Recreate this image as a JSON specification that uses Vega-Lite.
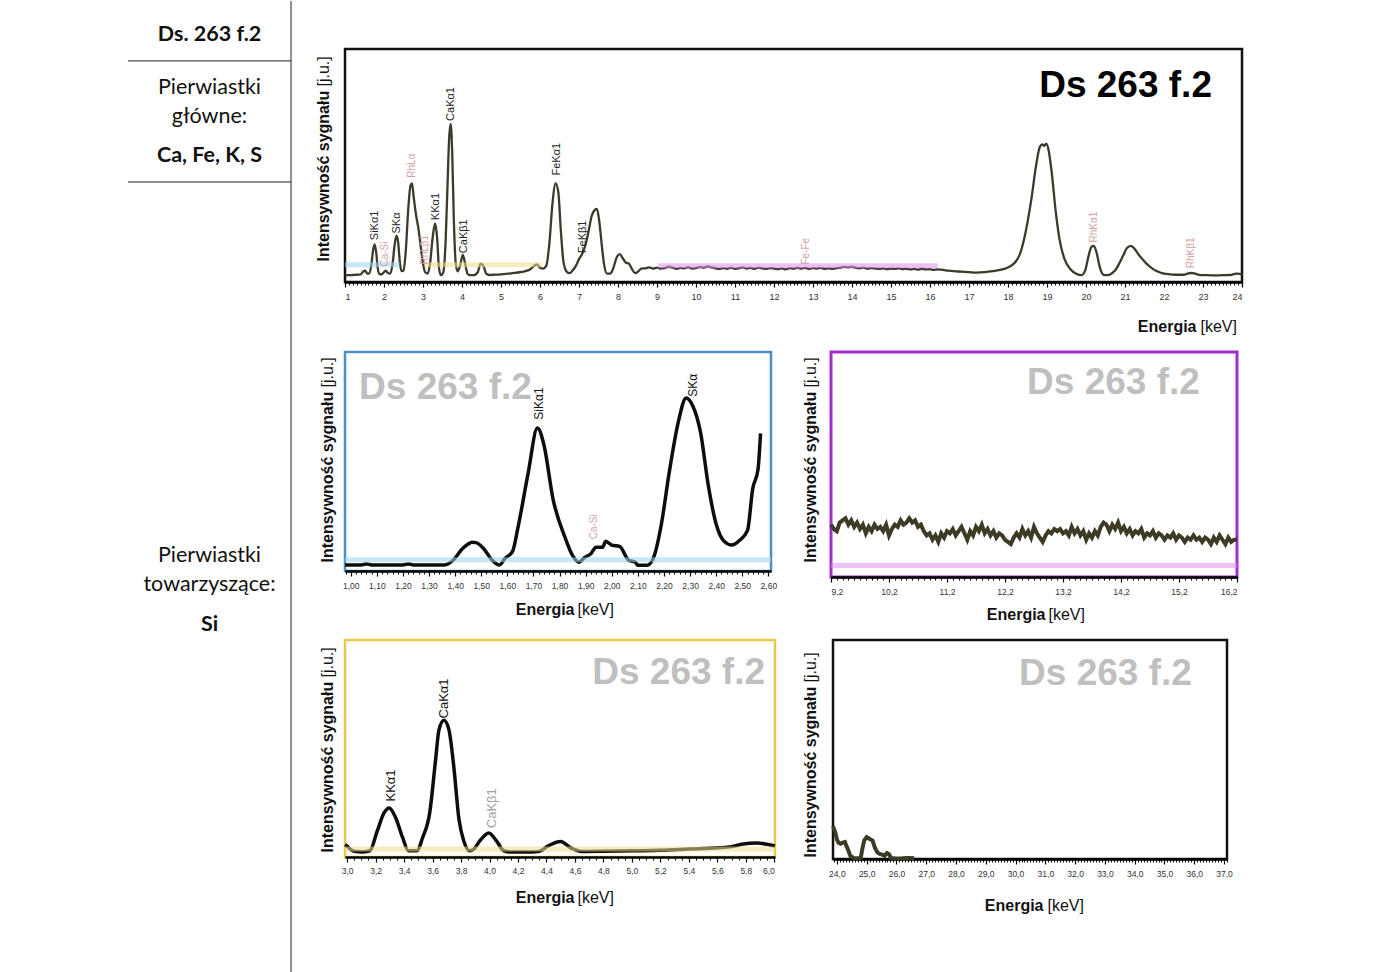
{
"$schema": "https://vega.github.io/schema/vega-lite/v6.json",
"background": "white",
"padding": {"left": 127, "top": 0, "right": 0, "bottom": 0},
"config": {
  "view": {"stroke": null},
  "axis": {"grid": false, "labelFont": "Liberation Sans", "titleFont": "Liberation Sans", "labelFontSize": 9, "labelColor": "#333", "tickColor": "#000", "domainColor": "#000"},
  "text": {"font": "Liberation Sans"}
},
"datasets": {
  "tabela": [
    {"line": 1.17, "text": "Ds. 263 f.2", "role": "value"},
    {"line": 2.99, "text": "Pierwiastki", "role": "label"},
    {"line": 3.99, "text": "główne:", "role": "label"},
    {"line": 5.33, "text": "Ca, Fe, K, S", "role": "value"},
    {"line": 19.07, "text": "Pierwiastki", "role": "label"},
    {"line": 20.07, "text": "towarzyszące:", "role": "label"},
    {"line": 21.44, "text": "Si", "role": "value"}
  ],
  "main": [
    {"e":1.0,"i":0.8},{"e":1.1,"i":0.8},{"e":1.2,"i":0.9},{"e":1.3,"i":1.0},{"e":1.4,"i":1.2},{"e":1.47,"i":2.5},{"e":1.52,"i":2.8},{"e":1.57,"i":1.5},{"e":1.62,"i":1.5},{"e":1.68,"i":6},{"e":1.72,"i":12},{"e":1.76,"i":14.6},{"e":1.8,"i":11},{"e":1.84,"i":4},{"e":1.88,"i":1.4},{"e":1.94,"i":1.2},{"e":2.0,"i":2.2},{"e":2.05,"i":2.8},{"e":2.1,"i":1.8},{"e":2.16,"i":1.5},{"e":2.22,"i":6},{"e":2.27,"i":14},{"e":2.32,"i":18.5},{"e":2.36,"i":16},{"e":2.41,"i":6},{"e":2.45,"i":2.6},{"e":2.5,"i":3.0},{"e":2.56,"i":12},{"e":2.62,"i":30},{"e":2.68,"i":41},{"e":2.72,"i":42},{"e":2.76,"i":36},{"e":2.82,"i":28},{"e":2.88,"i":22},{"e":2.94,"i":14},{"e":3.0,"i":6},{"e":3.06,"i":2},{"e":3.12,"i":1.5},{"e":3.18,"i":6},{"e":3.25,"i":18},{"e":3.31,"i":24},{"e":3.36,"i":18},{"e":3.41,"i":4},{"e":3.46,"i":0.8},{"e":3.52,"i":2},{"e":3.58,"i":16},{"e":3.63,"i":42},{"e":3.67,"i":62},{"e":3.71,"i":68.7},{"e":3.75,"i":55},{"e":3.79,"i":26},{"e":3.84,"i":6},{"e":3.89,"i":2.5},{"e":3.95,"i":5},{"e":4.02,"i":9.9},{"e":4.08,"i":6},{"e":4.14,"i":1.5},{"e":4.2,"i":0.8},{"e":4.3,"i":0.8},{"e":4.4,"i":2},{"e":4.48,"i":6},{"e":4.55,"i":5},{"e":4.62,"i":1.5},{"e":4.7,"i":0.9},{"e":4.8,"i":1},{"e":5.0,"i":1.2},{"e":5.2,"i":1.5},{"e":5.4,"i":2},{"e":5.6,"i":2.5},{"e":5.75,"i":3.5},{"e":5.85,"i":5},{"e":5.92,"i":5.6},{"e":6.0,"i":4.2},{"e":6.08,"i":3.8},{"e":6.16,"i":5},{"e":6.24,"i":15},{"e":6.32,"i":33},{"e":6.4,"i":42},{"e":6.47,"i":38},{"e":6.53,"i":22},{"e":6.6,"i":7},{"e":6.68,"i":2.5},{"e":6.76,"i":1.7},{"e":6.84,"i":3},{"e":6.92,"i":5},{"e":7.0,"i":8},{"e":7.08,"i":10.3},{"e":7.16,"i":14},{"e":7.24,"i":20},{"e":7.32,"i":27},{"e":7.4,"i":30},{"e":7.46,"i":30.5},{"e":7.52,"i":25},{"e":7.58,"i":15},{"e":7.64,"i":6},{"e":7.72,"i":1.5},{"e":7.8,"i":1.5},{"e":7.88,"i":4},{"e":7.96,"i":8.5},{"e":8.04,"i":10.3},{"e":8.12,"i":8.5},{"e":8.2,"i":6.5},{"e":8.28,"i":6},{"e":8.36,"i":3.5},{"e":8.44,"i":1.7},{"e":8.52,"i":2.5},{"e":8.6,"i":3.8},{"e":8.7,"i":3.9},{"e":8.8,"i":4.3},{"e":8.9,"i":3.8},{"e":9.0,"i":4.2},
    {"e":9.1,"i":3.8},{"e":9.2,"i":4.0},{"e":9.3,"i":4.6},{"e":9.4,"i":4.2},{"e":9.5,"i":3.7},{"e":9.6,"i":4.1},{"e":9.7,"i":3.9},{"e":9.8,"i":4.4},{"e":9.9,"i":3.8},{"e":10.0,"i":4.0},{"e":10.1,"i":4.5},{"e":10.2,"i":4.2},{"e":10.3,"i":4.7},{"e":10.4,"i":4.3},{"e":10.5,"i":3.9},{"e":10.6,"i":3.6},{"e":10.7,"i":4.0},{"e":10.8,"i":3.7},{"e":10.9,"i":4.2},{"e":11.0,"i":3.6},{"e":11.1,"i":4.0},{"e":11.2,"i":4.3},{"e":11.3,"i":3.8},{"e":11.4,"i":4.1},{"e":11.5,"i":3.7},{"e":11.6,"i":4.2},{"e":11.7,"i":3.9},{"e":11.8,"i":3.6},{"e":11.9,"i":4.0},{"e":12.0,"i":3.8},{"e":12.1,"i":3.5},{"e":12.2,"i":3.9},{"e":12.3,"i":3.4},{"e":12.4,"i":4.0},{"e":12.5,"i":3.7},{"e":12.6,"i":4.2},{"e":12.7,"i":3.8},{"e":12.8,"i":4.1},{"e":12.9,"i":3.6},{"e":13.0,"i":4.0},{"e":13.1,"i":3.8},{"e":13.2,"i":4.1},{"e":13.3,"i":3.7},{"e":13.4,"i":3.9},{"e":13.5,"i":3.6},{"e":13.6,"i":4.0},{"e":13.7,"i":4.2},{"e":13.8,"i":4.5},{"e":13.9,"i":4.3},{"e":14.0,"i":4.6},{"e":14.1,"i":4.1},{"e":14.2,"i":3.9},{"e":14.3,"i":4.2},{"e":14.4,"i":3.7},{"e":14.5,"i":4.0},{"e":14.6,"i":3.8},{"e":14.7,"i":3.6},{"e":14.8,"i":3.9},{"e":14.9,"i":3.5},{"e":15.0,"i":3.8},{"e":15.1,"i":3.6},{"e":15.2,"i":3.9},{"e":15.3,"i":3.5},{"e":15.4,"i":3.7},{"e":15.5,"i":3.4},{"e":15.6,"i":3.6},{"e":15.7,"i":3.3},{"e":15.8,"i":3.7},{"e":15.9,"i":3.4},{"e":16.0,"i":3.5},{"e":16.1,"i":3.2},{"e":16.2,"i":3.4},
    {"e":16.4,"i":3.0},{"e":16.6,"i":2.6},{"e":16.8,"i":2.4},{"e":17.0,"i":2.2},{"e":17.2,"i":2.0},{"e":17.4,"i":2.2},{"e":17.6,"i":2.6},{"e":17.8,"i":3.2},{"e":18.0,"i":4.3},{"e":18.15,"i":6},{"e":18.3,"i":10},{"e":18.45,"i":20},{"e":18.6,"i":35},{"e":18.72,"i":50},{"e":18.82,"i":58.5},{"e":18.88,"i":59.5},{"e":18.93,"i":58.8},{"e":18.98,"i":59.8},{"e":19.04,"i":57},{"e":19.12,"i":47},{"e":19.22,"i":30},{"e":19.32,"i":17},{"e":19.45,"i":8},{"e":19.6,"i":3.5},{"e":19.75,"i":1.5},{"e":19.88,"i":0.8},{"e":19.98,"i":3},{"e":20.06,"i":9},{"e":20.14,"i":13.5},{"e":20.2,"i":14},{"e":20.27,"i":11},{"e":20.36,"i":4},{"e":20.45,"i":1},{"e":20.55,"i":0.8},{"e":20.65,"i":1.5},{"e":20.75,"i":3},{"e":20.85,"i":6},{"e":20.95,"i":9.5},{"e":21.05,"i":13},{"e":21.15,"i":14},{"e":21.25,"i":12.5},{"e":21.35,"i":10},{"e":21.45,"i":8},{"e":21.55,"i":6},{"e":21.65,"i":4.5},{"e":21.75,"i":3.2},{"e":21.85,"i":2.4},{"e":21.95,"i":1.7},{"e":22.1,"i":1.3},{"e":22.3,"i":1.0},{"e":22.5,"i":1.0},{"e":22.62,"i":1.6},{"e":22.7,"i":1.8},{"e":22.78,"i":1.6},{"e":22.9,"i":1.0},{"e":23.1,"i":0.8},{"e":23.3,"i":0.7},{"e":23.5,"i":0.8},{"e":23.7,"i":0.9},{"e":23.85,"i":1.5},{"e":23.95,"i":1.4},{"e":24.0,"i":0.9}
  ],
  "mainLabels": [
    {"e":1.77,"i":16.5,"label":"SiKα1","kind":"element"},
    {"e":2.03,"i":4.7,"label":"Ca-Si","kind":"artifact"},
    {"e":2.33,"i":19.5,"label":"SKα","kind":"element"},
    {"e":2.72,"i":44.5,"label":"RhLα","kind":"artifact"},
    {"e":3.05,"i":5.6,"label":"RhLβ1","kind":"artifact"},
    {"e":3.33,"i":25.5,"label":"KKα1","kind":"element"},
    {"e":3.72,"i":70,"label":"CaKα1","kind":"element"},
    {"e":4.05,"i":10.7,"label":"CaKβ1","kind":"element"},
    {"e":6.44,"i":45.5,"label":"FeKα1","kind":"element"},
    {"e":7.1,"i":10.7,"label":"FeKβ1","kind":"element"},
    {"e":12.82,"i":5.6,"label":"Fe-Fe","kind":"artifact"},
    {"e":20.2,"i":15.5,"label":"RhKα1","kind":"artifact"},
    {"e":22.69,"i":3.9,"label":"RhKβ1","kind":"artifact"}
  ],
  "si": [
    {"e":0.978,"i":0.5},{"e":1.0,"i":0.5},{"e":1.04,"i":0.5},{"e":1.06,"i":1.0},{"e":1.08,"i":0.5},{"e":1.15,"i":0.5},{"e":1.2,"i":0.5},{"e":1.22,"i":1.0},{"e":1.24,"i":0.5},{"e":1.3,"i":0.5},{"e":1.36,"i":0.5},{"e":1.39,"i":2.5},{"e":1.426,"i":8},{"e":1.45,"i":10.5},{"e":1.464,"i":11.4},{"e":1.48,"i":11.2},{"e":1.51,"i":8.2},{"e":1.54,"i":3},{"e":1.57,"i":0.5},{"e":1.59,"i":3.5},{"e":1.62,"i":7},{"e":1.64,"i":18},{"e":1.68,"i":44.7},{"e":1.715,"i":66},{"e":1.74,"i":58},{"e":1.775,"i":32},{"e":1.82,"i":14},{"e":1.85,"i":5},{"e":1.875,"i":1.8},{"e":1.895,"i":4},{"e":1.92,"i":5.9},{"e":1.94,"i":9},{"e":1.965,"i":9},{"e":1.977,"i":11.9},{"e":2.0,"i":10},{"e":2.03,"i":9.4},{"e":2.065,"i":2.7},{"e":2.09,"i":1.8},{"e":2.1,"i":0.3},{"e":2.135,"i":0.3},{"e":2.16,"i":4},{"e":2.19,"i":20},{"e":2.22,"i":44.7},{"e":2.255,"i":69},{"e":2.285,"i":80.4},{"e":2.31,"i":76.7},{"e":2.34,"i":64},{"e":2.37,"i":38.4},{"e":2.4,"i":20},{"e":2.43,"i":11.9},{"e":2.46,"i":10},{"e":2.49,"i":12.3},{"e":2.52,"i":17},{"e":2.54,"i":37},{"e":2.56,"i":46},{"e":2.57,"i":63.5}
  ],
  "siLabels": [
    {"e":1.72,"i":70,"label":"SiKα1","kind":"element"},
    {"e":2.31,"i":81,"label":"SKα","kind":"element"},
    {"e":1.93,"i":12.8,"label":"Ca-Si","kind":"artifact"}
  ],
  "bg": [
    {"e":9.2,"i":22},{"e":9.25,"i":20},{"e":9.3,"i":19},{"e":9.35,"i":23},{"e":9.4,"i":24},{"e":9.45,"i":25},{"e":9.5,"i":22},{"e":9.55,"i":24},{"e":9.6,"i":21},{"e":9.65,"i":23},{"e":9.7,"i":20},{"e":9.75,"i":22},{"e":9.8,"i":18},{"e":9.85,"i":21},{"e":9.9,"i":19},{"e":9.95,"i":22},{"e":10.0,"i":20},{"e":10.05,"i":21},{"e":10.1,"i":19},{"e":10.15,"i":22},{"e":10.2,"i":17},{"e":10.25,"i":20},{"e":10.3,"i":22},{"e":10.35,"i":21},{"e":10.4,"i":24},{"e":10.45,"i":22},{"e":10.5,"i":23},{"e":10.55,"i":25},{"e":10.6,"i":23},{"e":10.65,"i":24},{"e":10.7,"i":21},{"e":10.75,"i":22},{"e":10.8,"i":19},{"e":10.85,"i":17},{"e":10.9,"i":18},{"e":10.95,"i":15},{"e":11.0,"i":17},{"e":11.05,"i":14},{"e":11.1,"i":18},{"e":11.15,"i":16},{"e":11.2,"i":19},{"e":11.25,"i":18},{"e":11.3,"i":20},{"e":11.35,"i":17},{"e":11.4,"i":19},{"e":11.45,"i":21},{"e":11.5,"i":18},{"e":11.55,"i":15},{"e":11.6,"i":19},{"e":11.65,"i":17},{"e":11.7,"i":21},{"e":11.75,"i":19},{"e":11.8,"i":22},{"e":11.85,"i":18},{"e":11.9,"i":20},{"e":11.95,"i":17},{"e":12.0,"i":19},{"e":12.05,"i":16},{"e":12.1,"i":18},{"e":12.15,"i":17},{"e":12.2,"i":15},{"e":12.25,"i":14},{"e":12.3,"i":13},{"e":12.35,"i":16},{"e":12.4,"i":18},{"e":12.45,"i":16},{"e":12.5,"i":20},{"e":12.55,"i":17},{"e":12.6,"i":19},{"e":12.65,"i":16},{"e":12.7,"i":21},{"e":12.75,"i":18},{"e":12.8,"i":16},{"e":12.85,"i":14},{"e":12.9,"i":17},{"e":12.95,"i":19},{"e":13.0,"i":18},{"e":13.05,"i":20},{"e":13.1,"i":19},{"e":13.15,"i":20},{"e":13.2,"i":18},{"e":13.25,"i":19},{"e":13.3,"i":17},{"e":13.35,"i":21},{"e":13.4,"i":18},{"e":13.45,"i":20},{"e":13.5,"i":17},{"e":13.55,"i":19},{"e":13.6,"i":15},{"e":13.65,"i":18},{"e":13.7,"i":16},{"e":13.75,"i":19},{"e":13.8,"i":17},{"e":13.85,"i":21},{"e":13.9,"i":23},{"e":13.95,"i":22},{"e":14.0,"i":19},{"e":14.05,"i":22},{"e":14.1,"i":20},{"e":14.15,"i":23},{"e":14.2,"i":19},{"e":14.25,"i":21},{"e":14.3,"i":18},{"e":14.35,"i":20},{"e":14.4,"i":17},{"e":14.45,"i":19},{"e":14.5,"i":18},{"e":14.55,"i":20},{"e":14.6,"i":16},{"e":14.65,"i":18},{"e":14.7,"i":17},{"e":14.75,"i":19},{"e":14.8,"i":16},{"e":14.85,"i":18},{"e":14.9,"i":17},{"e":14.95,"i":15},{"e":15.0,"i":17},{"e":15.05,"i":16},{"e":15.1,"i":18},{"e":15.15,"i":15},{"e":15.2,"i":17},{"e":15.25,"i":16},{"e":15.3,"i":14},{"e":15.35,"i":16},{"e":15.4,"i":15},{"e":15.45,"i":17},{"e":15.5,"i":15},{"e":15.55,"i":16},{"e":15.6,"i":14},{"e":15.65,"i":16},{"e":15.7,"i":15},{"e":15.75,"i":13},{"e":15.8,"i":16},{"e":15.85,"i":14},{"e":15.9,"i":17},{"e":15.95,"i":15},{"e":16.0,"i":13},{"e":16.05,"i":16},{"e":16.1,"i":14},{"e":16.15,"i":15},{"e":16.2,"i":15}
  ],
  "ca": [
    {"e":2.985,"i":3.5},{"e":3.0,"i":2.8},{"e":3.03,"i":1},{"e":3.06,"i":0.2},{"e":3.1,"i":0},{"e":3.16,"i":0.6},{"e":3.21,"i":9.8},{"e":3.26,"i":19},{"e":3.295,"i":21.3},{"e":3.34,"i":16.7},{"e":3.39,"i":6.9},{"e":3.43,"i":0.6},{"e":3.49,"i":0.6},{"e":3.53,"i":6.9},{"e":3.58,"i":19},{"e":3.62,"i":43.7},{"e":3.645,"i":59},{"e":3.68,"i":63.6},{"e":3.715,"i":59},{"e":3.75,"i":40.6},{"e":3.785,"i":16},{"e":3.82,"i":5.2},{"e":3.86,"i":0.6},{"e":3.89,"i":1.4},{"e":3.93,"i":5.2},{"e":3.995,"i":9.2},{"e":4.05,"i":5.2},{"e":4.1,"i":0.6},{"e":4.15,"i":0},{"e":4.3,"i":0},{"e":4.35,"i":0.3},{"e":4.41,"i":2.9},{"e":4.5,"i":5.1},{"e":4.57,"i":2},{"e":4.65,"i":0.3},{"e":4.8,"i":0.4},{"e":5.0,"i":0.6},{"e":5.2,"i":0.8},{"e":5.4,"i":1.4},{"e":5.6,"i":2},{"e":5.7,"i":2.6},{"e":5.77,"i":3.7},{"e":5.88,"i":4.4},{"e":5.95,"i":3.7},{"e":6.005,"i":2.9}
  ],
  "caLabels": [
    {"e":3.31,"i":24.4,"label":"KKα1","kind":"element"},
    {"e":3.68,"i":64.5,"label":"CaKα1","kind":"element"},
    {"e":4.02,"i":11.5,"label":"CaKβ1","kind":"weak"}
  ],
  "hi": [
    {"e":23.87,"i":15},{"e":23.95,"i":12},{"e":24.0,"i":9},{"e":24.05,"i":7.5},{"e":24.12,"i":7},{"e":24.2,"i":7.5},{"e":24.27,"i":7.8},{"e":24.32,"i":6},{"e":24.37,"i":4.5},{"e":24.45,"i":1.5},{"e":24.55,"i":0.5},{"e":24.7,"i":0.3},{"e":24.8,"i":0.5},{"e":24.86,"i":5},{"e":24.92,"i":8.5},{"e":25.0,"i":10},{"e":25.06,"i":9.5},{"e":25.12,"i":9},{"e":25.2,"i":8.4},{"e":25.28,"i":5},{"e":25.36,"i":3},{"e":25.44,"i":2.3},{"e":25.52,"i":2.0},{"e":25.6,"i":1.5},{"e":25.68,"i":2.7},{"e":25.75,"i":2.2},{"e":25.82,"i":0.5},{"e":25.9,"i":0.3},{"e":26.0,"i":0.2},{"e":26.2,"i":0.3},{"e":26.4,"i":0.5},{"e":26.6,"i":0.3}
  ]
},
"spacing": 21,
"hconcat": [
  {
    "width": 163, "height": 924,
    "layer": [
      {
        "data": {"values": [{"line": 2.06}, {"line": 6.22}]},
        "mark": {"type": "rule", "color": "#222", "strokeWidth": 1},
        "encoding": {
          "y": {"field": "line", "type": "quantitative", "scale": {"domain": [1.65, 33.4], "reverse": true, "nice": false, "zero": false}, "axis": null}
        }
      },
      {
        "data": {"values": [{"edge": 1, "from": 0, "to": 33.4}]},
        "mark": {"type": "rule", "color": "#222", "strokeWidth": 1},
        "encoding": {
          "x": {"field": "edge", "type": "quantitative", "scale": {"domain": [0, 1], "nice": false, "zero": false}, "axis": null},
          "y": {"field": "from", "type": "quantitative", "scale": {"domain": [1.65, 33.4], "reverse": true, "nice": false, "zero": false}, "axis": null},
          "y2": {"field": "to"}
        }
      },
      {
        "data": {"name": "tabela"},
        "transform": [{"filter": "datum.role === 'label'"}],
        "mark": {"type": "text", "font": "Lato", "fontSize": 21.5, "color": "#111", "align": "center", "baseline": "middle"},
        "encoding": {
          "y": {"field": "line", "type": "quantitative", "scale": {"domain": [1.65, 33.4], "reverse": true, "nice": false, "zero": false}, "axis": null},
          "text": {"field": "text"}
        }
      },
      {
        "data": {"name": "tabela"},
        "transform": [{"filter": "datum.role === 'value'"}],
        "mark": {"type": "text", "font": "Lato", "fontSize": 21.5, "fontWeight": "bold", "color": "#111", "align": "center", "baseline": "middle"},
        "encoding": {
          "y": {"field": "line", "type": "quantitative", "scale": {"domain": [1.65, 33.4], "reverse": true, "nice": false, "zero": false}, "axis": null},
          "text": {"field": "text"}
        }
      }
    ]
  },
  {
    "spacing": 14,
    "vconcat": [
      {
        "width": 897, "height": 233,
        "view": {"stroke": "#111", "strokeWidth": 2.5},
        "resolve": {"axis": {"x": "independent", "y": "independent"}},
        "layer": [
          {
            "data": {"name": "main"},
            "mark": {"type": "line", "color": "#3b3a2b", "strokeWidth": 2.3, "interpolate": "monotone"},
            "encoding": {
              "x": {"field": "e", "type": "quantitative", "scale": {"domain": [1, 24], "nice": false, "zero": false},
                "axis": {"orient": "bottom", "tickCount": 23, "labelPadding": 5, "tickSize": 5, "tickWidth": 1.2, "domainWidth": 2.5, "title": "Energia", "titleFontWeight": "bold", "titleFontSize": 16, "titleColor": "#111", "titleX": 851, "titleY": 44, "titleAlign": "right", "titleBaseline": "middle"}},
              "y": {"field": "i", "type": "quantitative", "scale": {"domain": [0, 100], "nice": false, "zero": false},
                "axis": {"orient": "left", "labels": false, "ticks": false, "domain": false, "title": "Intensywność sygnału", "titleFontWeight": "bold", "titleFontSize": 16, "titleColor": "#111", "titleAngle": 270, "titleX": -22, "titleY": 212, "titleAlign": "left", "titleBaseline": "middle"}}
            }
          },
          {
            "data": {"values": [{"e0": 1.0, "e1": 2.4, "top": 5.5, "region": "Si"}, {"e0": 3.05, "e1": 6.05, "top": 5.5, "region": "Ca"}, {"e0": 9.03, "e1": 16.2, "top": 5, "region": "tło"}]},
            "mark": {"type": "bar", "opacity": 0.55},
            "encoding": {
              "x": {"field": "e0", "type": "quantitative", "scale": {"domain": [1, 24], "nice": false, "zero": false}, "axis": null},
              "x2": {"field": "e1"},
              "y": {"field": "top", "type": "quantitative", "stack": null, "scale": {"domain": [0, 100], "nice": false, "zero": false}, "axis": null},
              "color": {"field": "region", "type": "nominal", "scale": {"domain": ["Si", "Ca", "tło"], "range": ["#9fd3f0", "#f0dc8a", "#df8ef0"]}, "legend": null}
            }
          },
          {
            "data": {"name": "mainLabels"},
            "transform": [{"filter": "datum.kind === 'element'"}],
            "mark": {"type": "text", "angle": 270, "align": "left", "baseline": "middle", "fontSize": 11, "color": "#222"},
            "encoding": {
              "x": {"field": "e", "type": "quantitative", "scale": {"domain": [1, 24], "nice": false, "zero": false},
                "axis": {"orient": "bottom", "tickCount": 230, "labels": false, "domain": false, "tickSize": 3, "tickWidth": 1, "title": "[keV]", "titleFontWeight": "normal", "titleFontSize": 16, "titleColor": "#111", "titleX": 855, "titleY": 44, "titleAlign": "left", "titleBaseline": "middle"}},
              "y": {"field": "i", "type": "quantitative", "scale": {"domain": [0, 100], "nice": false, "zero": false},
                "axis": {"orient": "left", "labels": false, "ticks": false, "domain": false, "title": "[j.u.]", "titleFontWeight": "normal", "titleFontSize": 16, "titleColor": "#111", "titleAngle": 270, "titleX": -22, "titleY": 37, "titleAlign": "left", "titleBaseline": "middle"}},
              "text": {"field": "label"}
            }
          },
          {
            "data": {"name": "mainLabels"},
            "transform": [{"filter": "datum.kind === 'artifact'"}],
            "mark": {"type": "text", "angle": 270, "align": "left", "baseline": "middle", "fontSize": 10, "color": "#d7a0a3"},
            "encoding": {
              "x": {"field": "e", "type": "quantitative", "scale": {"domain": [1, 24], "nice": false, "zero": false}, "axis": null},
              "y": {"field": "i", "type": "quantitative", "scale": {"domain": [0, 100], "nice": false, "zero": false}, "axis": null},
              "text": {"field": "label"}
            }
          },
          {
            "data": {"values": [{"e": 23.23, "i": 80.7, "text": "Ds 263 f.2"}]},
            "mark": {"type": "text", "align": "right", "baseline": "alphabetic", "fontSize": 37, "fontWeight": "bold", "color": "#000"},
            "encoding": {
              "x": {"field": "e", "type": "quantitative", "scale": {"domain": [1, 24], "nice": false, "zero": false}, "axis": null},
              "y": {"field": "i", "type": "quantitative", "scale": {"domain": [0, 100], "nice": false, "zero": false}, "axis": null},
              "text": {"field": "text"}
            }
          }
        ]
      },
      {
        "spacing": 22,
        "hconcat": [
          {
            "width": 426, "height": 219,
            "view": {"stroke": "#4a90c4", "strokeWidth": 2.5},
            "resolve": {"axis": {"x": "independent", "y": "independent"}},
            "layer": [
              {
                "data": {"name": "si"},
                "mark": {"type": "line", "color": "#0d0d0d", "strokeWidth": 3.5, "interpolate": "monotone"},
                "encoding": {
                  "x": {"field": "e", "type": "quantitative", "scale": {"domain": [0.978, 2.61], "nice": false, "zero": false},
                    "axis": {"orient": "bottom", "tickCount": 16, "labelExpr": "replace(format(datum.value, '.2f'), '.', ',')", "labelFontSize": 8.5, "labelPadding": 5, "tickSize": 5, "tickWidth": 1.2, "domainWidth": 2.5, "title": "Energia", "titleFontWeight": "bold", "titleFontSize": 16, "titleColor": "#111", "titleX": 229, "titleY": 38, "titleAlign": "right", "titleBaseline": "middle"}},
                  "y": {"field": "i", "type": "quantitative", "scale": {"domain": [0, 100], "nice": false, "zero": false},
                    "axis": {"orient": "left", "labels": false, "ticks": false, "domain": false, "title": "Intensywność sygnału", "titleFontWeight": "bold", "titleFontSize": 16, "titleColor": "#111", "titleAngle": 270, "titleX": -18, "titleY": 210, "titleAlign": "left", "titleBaseline": "middle"}}
                }
              },
              {
                "data": {"values": [{"e0": 0.978, "e1": 2.61, "top": 3, "region": "Si"}]},
                "mark": {"type": "bar", "opacity": 0.55},
                "encoding": {
                  "x": {"field": "e0", "type": "quantitative", "scale": {"domain": [0.978, 2.61], "nice": false, "zero": false}, "axis": null},
                  "x2": {"field": "e1"},
                  "y": {"field": "top", "type": "quantitative", "stack": null, "scale": {"domain": [0, 100], "nice": false, "zero": false}, "axis": null},
                  "color": {"field": "region", "type": "nominal", "scale": {"domain": ["Si", "Ca", "tło"], "range": ["#9fd3f0", "#f0dc8a", "#df8ef0"]}, "legend": null}
                }
              },
              {
                "data": {"name": "siLabels"},
                "transform": [{"filter": "datum.kind === 'element'"}],
                "mark": {"type": "text", "angle": 270, "align": "left", "baseline": "middle", "fontSize": 12, "color": "#111"},
                "encoding": {
                  "x": {"field": "e", "type": "quantitative", "scale": {"domain": [0.978, 2.61], "nice": false, "zero": false},
                    "axis": {"orient": "bottom", "tickCount": 82, "labels": false, "domain": false, "tickSize": 3, "tickWidth": 1, "title": "[keV]", "titleFontWeight": "normal", "titleFontSize": 16, "titleColor": "#111", "titleX": 232, "titleY": 38, "titleAlign": "left", "titleBaseline": "middle"}},
                  "y": {"field": "i", "type": "quantitative", "scale": {"domain": [0, 100], "nice": false, "zero": false},
                    "axis": {"orient": "left", "labels": false, "ticks": false, "domain": false, "title": "[j.u.]", "titleFontWeight": "normal", "titleFontSize": 16, "titleColor": "#111", "titleAngle": 270, "titleX": -18, "titleY": 35, "titleAlign": "left", "titleBaseline": "middle"}},
                  "text": {"field": "label"}
                }
              },
              {
                "data": {"name": "siLabels"},
                "transform": [{"filter": "datum.kind === 'artifact'"}],
                "mark": {"type": "text", "angle": 270, "align": "left", "baseline": "middle", "fontSize": 10, "color": "#d7a0a3"},
                "encoding": {
                  "x": {"field": "e", "type": "quantitative", "scale": {"domain": [0.978, 2.61], "nice": false, "zero": false}, "axis": null},
                  "y": {"field": "i", "type": "quantitative", "scale": {"domain": [0, 100], "nice": false, "zero": false}, "axis": null},
                  "text": {"field": "label"}
                }
              },
              {
                "data": {"values": [{"e": 1.694, "i": 80, "text": "Ds 263 f.2"}]},
                "mark": {"type": "text", "align": "right", "baseline": "alphabetic", "fontSize": 37, "fontWeight": "bold", "color": "#bfbfbf"},
                "encoding": {
                  "x": {"field": "e", "type": "quantitative", "scale": {"domain": [0.978, 2.61], "nice": false, "zero": false}, "axis": null},
                  "y": {"field": "i", "type": "quantitative", "scale": {"domain": [0, 100], "nice": false, "zero": false}, "axis": null},
                  "text": {"field": "text"}
                }
              }
            ]
          },
          {
            "width": 406, "height": 225,
            "view": {"stroke": "#a12fc9", "strokeWidth": 3},
            "resolve": {"axis": {"x": "independent", "y": "independent"}},
            "layer": [
              {
                "data": {"name": "bg"},
                "mark": {"type": "line", "color": "#3d3b26", "strokeWidth": 4},
                "encoding": {
                  "x": {"field": "e", "type": "quantitative", "scale": {"domain": [9.2, 16.2], "nice": false, "zero": false},
                    "axis": {"orient": "bottom", "values": [9.2, 10.2, 11.2, 12.2, 13.2, 14.2, 15.2, 16.2], "labelExpr": "replace(format(datum.value, '.1f'), '.', ',')", "labelFontSize": 8.5, "labelPadding": 5, "tickSize": 5, "tickWidth": 1.2, "domainWidth": 2.5, "title": "Energia", "titleFontWeight": "bold", "titleFontSize": 16, "titleColor": "#111", "titleX": 214, "titleY": 37, "titleAlign": "right", "titleBaseline": "middle"}},
                  "y": {"field": "i", "type": "quantitative", "scale": {"domain": [0, 100], "nice": false, "zero": false},
                    "axis": {"orient": "left", "labels": false, "ticks": false, "domain": false, "title": "Intensywność sygnału", "titleFontWeight": "bold", "titleFontSize": 16, "titleColor": "#111", "titleAngle": 270, "titleX": -21, "titleY": 210, "titleAlign": "left", "titleBaseline": "middle"}}
                }
              },
              {
                "data": {"values": [{"e0": 9.2, "e1": 16.2, "top": 3, "region": "tło"}]},
                "mark": {"type": "bar", "opacity": 0.55},
                "encoding": {
                  "x": {"field": "e0", "type": "quantitative", "scale": {"domain": [9.2, 16.2], "nice": false, "zero": false}, "axis": null},
                  "x2": {"field": "e1"},
                  "y": {"field": "top", "type": "quantitative", "stack": null, "scale": {"domain": [0, 100], "nice": false, "zero": false}, "axis": null},
                  "color": {"field": "region", "type": "nominal", "scale": {"domain": ["Si", "Ca", "tło"], "range": ["#9fd3f0", "#f0dc8a", "#df8ef0"]}, "legend": null}
                }
              },
              {
                "data": {"values": [{"e": 15.56, "i": 82.7, "text": "Ds 263 f.2"}]},
                "mark": {"type": "text", "align": "right", "baseline": "alphabetic", "fontSize": 37, "fontWeight": "bold", "color": "#bfbfbf"},
                "encoding": {
                  "x": {"field": "e", "type": "quantitative", "scale": {"domain": [9.2, 16.2], "nice": false, "zero": false},
                    "axis": {"orient": "bottom", "tickCount": 70, "labels": false, "domain": false, "tickSize": 3, "tickWidth": 1, "title": "[keV]", "titleFontWeight": "normal", "titleFontSize": 16, "titleColor": "#111", "titleX": 217, "titleY": 37, "titleAlign": "left", "titleBaseline": "middle"}},
                  "y": {"field": "i", "type": "quantitative", "scale": {"domain": [0, 100], "nice": false, "zero": false},
                    "axis": {"orient": "left", "labels": false, "ticks": false, "domain": false, "title": "[j.u.]", "titleFontWeight": "normal", "titleFontSize": 16, "titleColor": "#111", "titleAngle": 270, "titleX": -21, "titleY": 35, "titleAlign": "left", "titleBaseline": "middle"}},
                  "text": {"field": "text"}
                }
              }
            ]
          }
        ]
      },
      {
        "spacing": 16,
        "hconcat": [
          {
            "width": 430, "height": 217,
            "view": {"stroke": "#e5c84c", "strokeWidth": 2.5},
            "resolve": {"axis": {"x": "independent", "y": "independent"}},
            "layer": [
              {
                "data": {"name": "ca"},
                "mark": {"type": "line", "color": "#0d0d0d", "strokeWidth": 3.5, "interpolate": "monotone"},
                "encoding": {
                  "x": {"field": "e", "type": "quantitative", "scale": {"domain": [2.985, 6.005], "nice": false, "zero": false},
                    "axis": {"orient": "bottom", "tickCount": 15, "labelExpr": "replace(format(datum.value, '.1f'), '.', ',')", "labelFontSize": 8.5, "labelPadding": 4, "tickSize": 5, "tickWidth": 1.2, "domainWidth": 2.5, "title": "Energia", "titleFontWeight": "bold", "titleFontSize": 16, "titleColor": "#111", "titleX": 229, "titleY": 40, "titleAlign": "right", "titleBaseline": "middle"}},
                  "y": {"field": "i", "type": "quantitative", "scale": {"domain": [0, 100], "nice": false, "zero": false},
                    "axis": {"orient": "left", "labels": false, "ticks": false, "domain": false, "title": "Intensywność sygnału", "titleFontWeight": "bold", "titleFontSize": 16, "titleColor": "#111", "titleAngle": 270, "titleX": -18, "titleY": 212, "titleAlign": "left", "titleBaseline": "middle"}}
                }
              },
              {
                "data": {"values": [{"e0": 2.985, "e1": 6.005, "top": 1.5, "region": "Ca"}]},
                "mark": {"type": "bar", "opacity": 0.55},
                "encoding": {
                  "x": {"field": "e0", "type": "quantitative", "scale": {"domain": [2.985, 6.005], "nice": false, "zero": false}, "axis": null},
                  "x2": {"field": "e1"},
                  "y": {"field": "top", "type": "quantitative", "stack": null, "scale": {"domain": [0, 100], "nice": false, "zero": false}, "axis": null},
                  "color": {"field": "region", "type": "nominal", "scale": {"domain": ["Si", "Ca", "tło"], "range": ["#9fd3f0", "#f0dc8a", "#df8ef0"]}, "legend": null}
                }
              },
              {
                "data": {"name": "caLabels"},
                "transform": [{"filter": "datum.kind === 'element'"}],
                "mark": {"type": "text", "angle": 270, "align": "left", "baseline": "middle", "fontSize": 13, "color": "#111"},
                "encoding": {
                  "x": {"field": "e", "type": "quantitative", "scale": {"domain": [2.985, 6.005], "nice": false, "zero": false},
                    "axis": {"orient": "bottom", "tickCount": 60, "labels": false, "domain": false, "tickSize": 3, "tickWidth": 1, "title": "[keV]", "titleFontWeight": "normal", "titleFontSize": 16, "titleColor": "#111", "titleX": 232, "titleY": 40, "titleAlign": "left", "titleBaseline": "middle"}},
                  "y": {"field": "i", "type": "quantitative", "scale": {"domain": [0, 100], "nice": false, "zero": false},
                    "axis": {"orient": "left", "labels": false, "ticks": false, "domain": false, "title": "[j.u.]", "titleFontWeight": "normal", "titleFontSize": 16, "titleColor": "#111", "titleAngle": 270, "titleX": -18, "titleY": 37, "titleAlign": "left", "titleBaseline": "middle"}},
                  "text": {"field": "label"}
                }
              },
              {
                "data": {"name": "caLabels"},
                "transform": [{"filter": "datum.kind === 'weak'"}],
                "mark": {"type": "text", "angle": 270, "align": "left", "baseline": "middle", "fontSize": 13, "color": "#a0a0a0"},
                "encoding": {
                  "x": {"field": "e", "type": "quantitative", "scale": {"domain": [2.985, 6.005], "nice": false, "zero": false}, "axis": null},
                  "y": {"field": "i", "type": "quantitative", "scale": {"domain": [0, 100], "nice": false, "zero": false}, "axis": null},
                  "text": {"field": "label"}
                }
              },
              {
                "data": {"values": [{"e": 5.935, "i": 81, "text": "Ds 263 f.2"}]},
                "mark": {"type": "text", "align": "right", "baseline": "alphabetic", "fontSize": 37, "fontWeight": "bold", "color": "#bfbfbf"},
                "encoding": {
                  "x": {"field": "e", "type": "quantitative", "scale": {"domain": [2.985, 6.005], "nice": false, "zero": false}, "axis": null},
                  "y": {"field": "i", "type": "quantitative", "scale": {"domain": [0, 100], "nice": false, "zero": false}, "axis": null},
                  "text": {"field": "text"}
                }
              }
            ]
          },
          {
            "width": 394, "height": 219,
            "view": {"stroke": "#111", "strokeWidth": 2.5},
            "resolve": {"axis": {"x": "independent", "y": "independent"}},
            "layer": [
              {
                "data": {"name": "hi"},
                "mark": {"type": "line", "color": "#3d3b26", "strokeWidth": 4},
                "encoding": {
                  "x": {"field": "e", "type": "quantitative", "scale": {"domain": [23.87, 37.1], "nice": false, "zero": false},
                    "axis": {"orient": "bottom", "tickCount": 13, "labelExpr": "replace(format(datum.value, '.1f'), '.', ',')", "labelFontSize": 8.5, "labelPadding": 5, "tickSize": 5, "tickWidth": 1.2, "domainWidth": 2.5, "title": "Energia", "titleFontWeight": "bold", "titleFontSize": 16, "titleColor": "#111", "titleX": 210, "titleY": 46, "titleAlign": "right", "titleBaseline": "middle"}},
                  "y": {"field": "i", "type": "quantitative", "scale": {"domain": [0, 100], "nice": false, "zero": false},
                    "axis": {"orient": "left", "labels": false, "ticks": false, "domain": false, "title": "Intensywność sygnału", "titleFontWeight": "bold", "titleFontSize": 16, "titleColor": "#111", "titleAngle": 270, "titleX": -23, "titleY": 217, "titleAlign": "left", "titleBaseline": "middle"}}
                }
              },
              {
                "data": {"values": [{"e": 35.92, "i": 79.5, "text": "Ds 263 f.2"}]},
                "mark": {"type": "text", "align": "right", "baseline": "alphabetic", "fontSize": 37, "fontWeight": "bold", "color": "#bfbfbf"},
                "encoding": {
                  "x": {"field": "e", "type": "quantitative", "scale": {"domain": [23.87, 37.1], "nice": false, "zero": false},
                    "axis": {"orient": "bottom", "tickCount": 130, "labels": false, "domain": false, "tickSize": 3, "tickWidth": 1, "title": "[keV]", "titleFontWeight": "normal", "titleFontSize": 16, "titleColor": "#111", "titleX": 214, "titleY": 46, "titleAlign": "left", "titleBaseline": "middle"}},
                  "y": {"field": "i", "type": "quantitative", "scale": {"domain": [0, 100], "nice": false, "zero": false},
                    "axis": {"orient": "left", "labels": false, "ticks": false, "domain": false, "title": "[j.u.]", "titleFontWeight": "normal", "titleFontSize": 16, "titleColor": "#111", "titleAngle": 270, "titleX": -23, "titleY": 42, "titleAlign": "left", "titleBaseline": "middle"}},
                  "text": {"field": "text"}
                }
              }
            ]
          }
        ]
      }
    ]
  }
]
}
